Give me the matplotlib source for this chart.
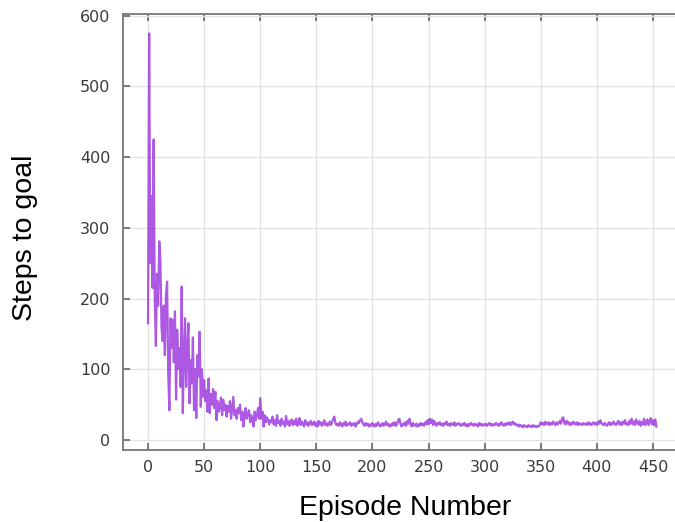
import numpy as np
import matplotlib
matplotlib.use('Agg')
import matplotlib.pyplot as plt

# steps to goal per episode
steps_early = [165, 575, 250, 345, 215, 425, 200, 133, 235, 190,
               281, 255, 160, 140, 190, 120, 205, 224, 95, 42,
               172, 130, 170, 110, 182, 57, 156, 100, 130, 75,
               217, 38, 120, 172, 75, 130, 165, 52, 113, 80,
               145, 42, 100, 31, 120, 90, 153, 47, 100, 61,
               85, 55, 70, 40, 87, 38, 65, 50, 72, 45,
               68, 28, 55, 40, 47, 60, 35, 57, 42, 50,
               33, 48, 40, 55, 30, 45, 61, 35, 42, 30,
               45, 38, 50, 28, 40, 19, 35, 45, 30, 38,
               42, 25, 35, 30, 19, 40, 28, 35, 45, 30,
               59, 30, 40, 19, 35, 25, 32, 28, 22, 28]
steps_late = [25, 33, 22, 28, 20, 35, 24, 27, 20, 30,
              23, 26, 19, 34, 22, 27, 20, 25, 29, 21,
              27, 22, 30, 20, 24, 31, 21, 26, 23, 19,
              28, 22, 25, 20, 24, 27, 21, 23, 26, 20,
              24, 19, 27, 22, 25, 20, 23, 28, 21, 24,
              20, 22, 26, 21, 25, 30, 33, 24, 21, 23,
              20, 25, 22, 19, 24, 21, 26, 20, 23, 22,
              25, 20, 23, 21, 24, 19, 22, 26, 24, 28,
              30, 25, 22, 20, 24, 21, 23, 19, 22, 20,
              24, 21, 19, 23, 20, 25, 22, 19, 21, 24,
              20, 22, 26, 21, 23, 19, 22, 20, 24, 21,
              25, 20, 23, 28, 30, 22, 19, 23, 21, 25,
              20, 27, 23, 30, 22, 19, 24, 21, 20, 23,
              19, 22, 20, 24, 21, 23, 20, 25, 22, 28,
              22, 30, 24, 29, 21, 27, 23, 20, 24, 22,
              25, 21, 23, 20, 24, 22, 26, 21, 23, 20,
              24, 22, 21, 25, 20, 23, 22, 24, 21, 20,
              23, 21, 24, 20, 22, 19, 23, 21, 24, 22,
              20, 23, 21, 22, 19, 24, 21, 23, 20, 22,
              21, 23, 20, 22, 24, 21, 23, 20, 22, 21,
              24, 22, 20, 23, 21, 25, 22, 20, 23, 21,
              24, 22, 25, 21, 23, 26, 22, 24, 21, 20,
              22, 19, 21, 20, 18, 21, 19, 20, 18, 21,
              19, 20, 18, 21, 19, 20, 18, 20, 19, 21,
              25, 22, 24, 21, 26, 23, 22, 25, 21, 24,
              22, 26, 23, 21, 25, 22, 24, 27, 23, 30,
              32, 24, 22, 27, 23, 25, 21, 24, 22, 26,
              23, 22, 25, 21, 24, 22, 23, 21, 24, 22,
              23, 21, 25, 22, 24, 21, 23, 25, 22, 24,
              21, 26, 23, 28, 24, 22, 21, 24, 22, 20,
              23, 25, 21, 24, 22, 26, 23, 21, 24, 27,
              22, 25, 21, 26, 23, 28, 22, 24, 21, 27,
              23, 30, 22, 26, 21, 29, 24, 22, 27, 20,
              25, 22, 30, 21, 24, 29, 21, 26, 31, 22,
              28, 21, 29, 19]
steps = steps_early + steps_late
episodes = np.arange(len(steps))

x_ticks = list(range(0, 451, 50))
y_ticks = list(range(0, 601, 100))

fig = plt.figure(figsize=(6.75, 5.22), dpi=100)
ax = fig.add_axes([123/675, 72/522, 1 - 123/675, 436/522])

ax.plot(episodes, steps, color='#9a30dc', lw=1.6, alpha=0.8, zorder=3)

ax.set_xlim(-22.3, 469.6)
ax.set_ylim(-14.2, 602.5)
ax.set_xticks(x_ticks)
ax.set_yticks(y_ticks)
ax.grid(True, color='#e2e2e2', lw=1.0, zorder=0)

for s in ['left', 'bottom', 'top']:
    ax.spines[s].set_color('#777777')
    ax.spines[s].set_linewidth(1.3)
ax.spines['right'].set_visible(False)

ax.tick_params(direction='in', length=5, width=1.2, color='#666666',
               labelsize=11.5, labelcolor='#3a3a3a', top=True)
ax.tick_params(axis='y', pad=9)
ax.tick_params(axis='x', pad=7)

fig.text(25/675, 1 - 238/522, 'Steps to goal', rotation=90,
         ha='center', va='center', fontsize=20.5, family='Liberation Sans')
fig.text(405/675, 1 - 508/522, 'Episode Number',
         ha='center', va='center', fontsize=20.5, family='Liberation Sans')

fig.savefig('out.png', dpi=100)
